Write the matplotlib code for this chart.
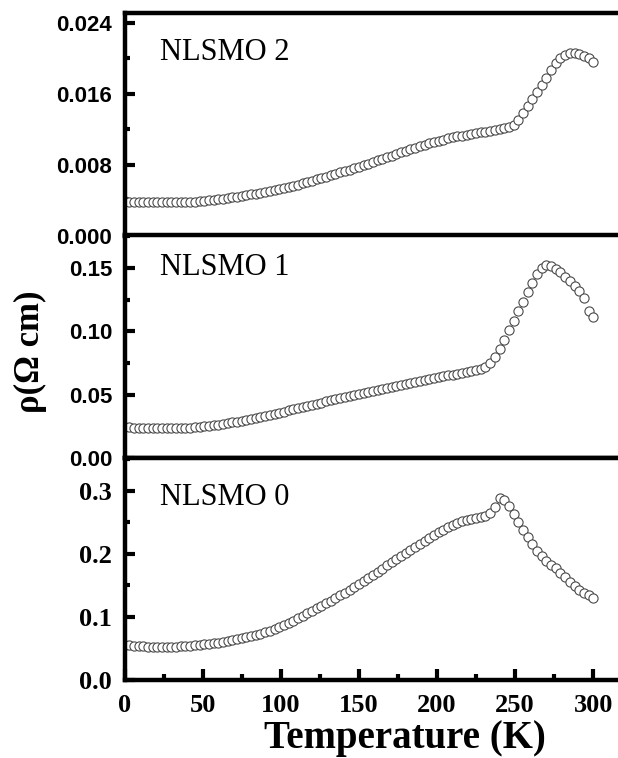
import matplotlib
matplotlib.use("Agg")
import matplotlib.pyplot as plt
from matplotlib.ticker import MultipleLocator, FormatStrFormatter
from matplotlib.font_manager import FontProperties

# ---------------- data ----------------
temperature = [0, 3, 6, 9, 12, 15, 18, 21, 24, 27, 30, 33, 36, 39, 42, 45, 48, 51, 54, 57,
               60, 63, 66, 69, 72, 75, 78, 81, 84, 87, 90, 93, 96, 99, 102, 105, 108, 111, 114, 117,
               120, 123, 126, 129, 132, 135, 138, 141, 144, 147, 150, 153, 156, 159, 162, 165, 168, 171, 174, 177,
               180, 183, 186, 189, 192, 195, 198, 201, 204, 207, 210, 213, 216, 219, 222, 225, 228, 231, 234, 237,
               240, 243, 246, 249, 252, 255, 258, 261, 264, 267, 270, 273, 276, 279, 282, 285, 288, 291, 294, 297,
               300]

rho_nlsmo2 = [0.00390, 0.00388, 0.00385, 0.00383, 0.00381, 0.00380, 0.00379, 0.00378, 0.00378, 0.00378,
              0.00378, 0.00379, 0.00380, 0.00382, 0.00385, 0.00388, 0.00392, 0.00397, 0.00402, 0.00408,
              0.00414, 0.00420, 0.00427, 0.00434, 0.00442, 0.00450, 0.00459, 0.00468, 0.00478, 0.00488,
              0.00498, 0.00508, 0.00518, 0.00528, 0.00539, 0.00551, 0.00564, 0.00578, 0.00592, 0.00607,
              0.00623, 0.00638, 0.00653, 0.00668, 0.00684, 0.00700, 0.00716, 0.00732, 0.00748, 0.00764,
              0.00780, 0.00798, 0.00816, 0.00834, 0.00852, 0.00870, 0.00888, 0.00906, 0.00924, 0.00942,
              0.00960, 0.00977, 0.00994, 0.01011, 0.01027, 0.01042, 0.01057, 0.01070, 0.01085, 0.01098,
              0.01110, 0.01120, 0.01130, 0.01140, 0.01150, 0.01160, 0.01168, 0.01176, 0.01184, 0.01192,
              0.01200, 0.01210, 0.01225, 0.01250, 0.01310, 0.01385, 0.01460, 0.01540, 0.01620, 0.01700,
              0.01780, 0.01870, 0.01950, 0.02000, 0.02040, 0.02060, 0.02060, 0.02050, 0.02030, 0.02000,
              0.01960]

rho_nlsmo1 = [0.0245, 0.0242, 0.0240, 0.0238, 0.0236, 0.0235, 0.0234, 0.0233, 0.0233, 0.0233,
              0.0233, 0.0234, 0.0236, 0.0238, 0.0240, 0.0243, 0.0246, 0.0250, 0.0254, 0.0259,
              0.0264, 0.0270, 0.0276, 0.0282, 0.0288, 0.0295, 0.0302, 0.0309, 0.0316, 0.0324,
              0.0332, 0.0340, 0.0348, 0.0357, 0.0366, 0.0375, 0.0384, 0.0393, 0.0402, 0.0411,
              0.0420, 0.0429, 0.0438, 0.0447, 0.0455, 0.0463, 0.0471, 0.0479, 0.0487, 0.0495,
              0.0503, 0.0511, 0.0519, 0.0527, 0.0535, 0.0543, 0.0551, 0.0559, 0.0567, 0.0575,
              0.0583, 0.0591, 0.0599, 0.0607, 0.0615, 0.0623, 0.0631, 0.0638, 0.0645, 0.0652,
              0.0659, 0.0665, 0.0671, 0.0677, 0.0684, 0.0692, 0.0703, 0.0720, 0.0748, 0.0795,
              0.0860, 0.0935, 0.1010, 0.1085, 0.1160, 0.1235, 0.1310, 0.1385, 0.1450, 0.1500,
              0.1520, 0.1515, 0.1495, 0.1465, 0.1430, 0.1395, 0.1360, 0.1320, 0.1265, 0.1160,
              0.1115]

rho_nlsmo0 = [0.0556, 0.0548, 0.0542, 0.0537, 0.0533, 0.0530, 0.0528, 0.0527, 0.0527, 0.0527,
              0.0528, 0.0530, 0.0533, 0.0537, 0.0542, 0.0548, 0.0555, 0.0563, 0.0572, 0.0582,
              0.0593, 0.0605, 0.0618, 0.0632, 0.0647, 0.0663, 0.0680, 0.0698, 0.0717, 0.0737,
              0.0758, 0.0782, 0.0809, 0.0838, 0.0872, 0.0907, 0.0943, 0.0980, 0.1018, 0.1056,
              0.1095, 0.1135, 0.1175, 0.1216, 0.1258, 0.1300, 0.1343, 0.1387, 0.1432, 0.1478,
              0.1525, 0.1573, 0.1621, 0.1669, 0.1718, 0.1767, 0.1816, 0.1865, 0.1914, 0.1963,
              0.2010, 0.2060, 0.2110, 0.2160, 0.2205, 0.2250, 0.2295, 0.2340, 0.2385, 0.2425,
              0.2460, 0.2490, 0.2515, 0.2535, 0.2555, 0.2570, 0.2585, 0.2605, 0.2645, 0.2750,
              0.2890, 0.2860, 0.2760, 0.2630, 0.2500, 0.2380, 0.2260, 0.2150, 0.2050, 0.1960,
              0.1890, 0.1830, 0.1770, 0.1700, 0.1630, 0.1560, 0.1490, 0.1430, 0.1380, 0.1340,
              0.1300]

sample_labels = ["NLSMO 2", "NLSMO 1", "NLSMO 0"]
y_ticks_top = [0.000, 0.008, 0.016, 0.024]
y_ticks_mid = [0.00, 0.05, 0.10, 0.15]
y_ticks_bot = [0.0, 0.1, 0.2, 0.3]
x_ticks = [0, 50, 100, 150, 200, 250, 300]

# ---------------- figure ----------------
W, H = 618, 758
fig = plt.figure(figsize=(W / 100, H / 100), dpi=100)

SERIF = ["Liberation Serif", "DejaVu Serif"]

left = 124.5 / W
width = 500 / W

def px_rect(top_px, bot_px):
    return [left, (H - bot_px) / H, width, (bot_px - top_px) / H]

ax_top = fig.add_axes(px_rect(13, 236))
ax_mid = fig.add_axes(px_rect(235, 458))
ax_bot = fig.add_axes(px_rect(458, 680))

sans_fp = FontProperties(family=["Liberation Sans", "DejaVu Sans"], weight="bold",
                         stretch="normal", size=16)
serif_fp = FontProperties(family=SERIF, weight="bold", size=19)

panels = [
    (ax_top, rho_nlsmo2, (0, 0.0251), y_ticks_top, 0.004, "%.3f", sans_fp, sample_labels[0], 0.79),
    (ax_mid, rho_nlsmo1, (0, 0.176), y_ticks_mid, 0.025, "%.2f", sans_fp, sample_labels[1], 0.82),
    (ax_bot, rho_nlsmo0, (0, 0.352), y_ticks_bot, 0.05, "%.1f", serif_fp, sample_labels[2], 0.788),
]

for ax, rho, ylim, yt, yminor, fmt, fp, lab, ty in panels:
    ax.plot(temperature, rho, linestyle="none", marker="o", markersize=6.6,
            markerfacecolor="white", markeredgecolor="#4a4a4a", markeredgewidth=0.8)
    ax.set_xlim(0, 320)
    ax.set_ylim(*ylim)
    ax.set_yticks(yt)
    ax.yaxis.set_minor_locator(MultipleLocator(yminor))
    ax.yaxis.set_major_formatter(FormatStrFormatter(fmt))
    ax.tick_params(axis="y", which="major", direction="in", length=7, width=3, pad=9,
                   left=True, right=False)
    ax.tick_params(axis="y", which="minor", direction="in", length=3.5, width=3,
                   left=True, right=False)
    for t in ax.get_yticklabels():
        t.set_fontproperties(fp)
    for sp in ax.spines.values():
        sp.set_linewidth(3.2)
    ax.text(23, ty * ylim[1], lab, transform=ax.transData, ha="left", va="baseline",
            family=SERIF, fontsize=22)

for ax in (ax_top, ax_mid):
    ax.set_xticks([])
    ax.tick_params(axis="x", which="both", bottom=False, top=False, labelbottom=False)

ax_bot.set_xticks(x_ticks)
ax_bot.xaxis.set_minor_locator(MultipleLocator(25))
ax_bot.tick_params(axis="x", which="major", direction="in", length=8, width=3, pad=10,
                   bottom=True, top=False)
ax_bot.tick_params(axis="x", which="minor", direction="in", length=4, width=3,
                   bottom=True, top=False)
for t in ax_bot.get_xticklabels():
    t.set_fontproperties(serif_fp)

fig.text(30 / W, (H - 352) / H, "ρ(Ω cm)", rotation=90, ha="center", va="center",
         family=SERIF, fontweight="bold", fontsize=25)
fig.text(405 / W, (H - 748) / H, "Temperature (K)", ha="center", va="baseline",
         family=SERIF, fontweight="bold", fontsize=28)

fig.savefig("out.png", dpi=100, facecolor="white")
